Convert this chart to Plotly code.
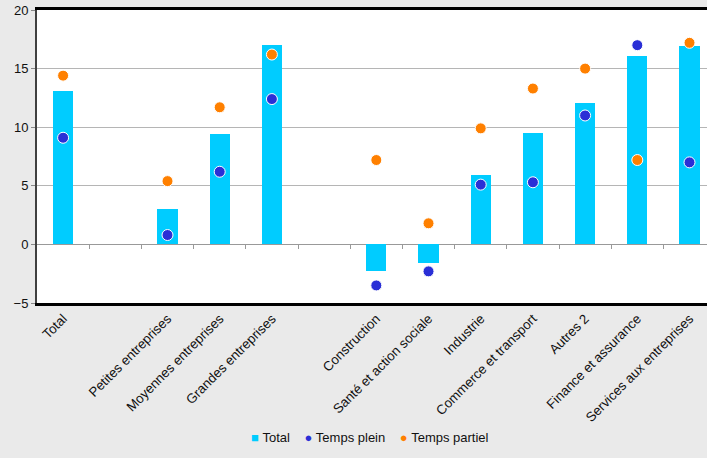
import plotly.graph_objects as go

categories = ["Total", "", "Petites entreprises", "Moyennes entreprises", "Grandes entreprises", "",
              "Construction", "Santé et action sociale", "Industrie", "Commerce et transport",
              "Autres 2", "Finance et assurance", "Services aux entreprises"]
total = [13.1, None, 3.0, 9.4, 17.0, None, -2.3, -1.6, 5.9, 9.5, 12.1, 16.1, 16.9]
temps_plein = [9.1, None, 0.8, 6.2, 12.4, None, -3.5, -2.3, 5.1, 5.3, 11.0, 17.0, 7.0]
temps_partiel = [14.4, None, 5.4, 11.7, 16.2, None, 7.2, 1.8, 9.9, 13.3, 15.0, 7.2, 17.2]
y_ticks = [-5, 0, 5, 10, 15, 20]
series_names = ["Total", "Temps plein", "Temps partiel"]
series_colors = ["#00CCFF", "#2A2FD6", "#FF8000"]

x = list(range(len(categories)))
FONT = "Liberation Sans, Arial, sans-serif"

fig = go.Figure()
fig.add_trace(go.Bar(x=x, y=total, name=series_names[0],
                     marker=dict(color=series_colors[0], line=dict(width=0)), width=0.385))
fig.add_trace(go.Scatter(x=x, y=temps_plein, name=series_names[1], mode="markers",
                         marker=dict(color=series_colors[1], size=11, line=dict(color="white", width=1))))
fig.add_trace(go.Scatter(x=x, y=temps_partiel, name=series_names[2], mode="markers",
                         marker=dict(color=series_colors[2], size=11, line=dict(color="white", width=1))))
# invisible trace to carry the tick marks on the zero line
fig.add_trace(go.Scatter(x=[None], y=[None], xaxis="x2", showlegend=False, hoverinfo="skip"))

legend_text = "&nbsp;&nbsp;&nbsp;&nbsp;".join(
    f"<span style='color:{c}'>{'■' if i == 0 else '●'}</span>&nbsp;{n}"
    for i, (n, c) in enumerate(zip(series_names, series_colors)))

rng = [-0.5, 12.335]
fig.update_layout(
    width=707, height=458,
    margin=dict(l=37, r=0, t=10, b=155),
    paper_bgcolor="#EAEAEA", plot_bgcolor="white",
    font=dict(family=FONT, color="#111111"),
    showlegend=False,
    bargap=0,
    annotations=[dict(text=legend_text, xref="paper", yref="paper", x=0.497, y=-0.46,
                      xanchor="center", yanchor="middle", showarrow=False,
                      font=dict(size=13, family=FONT, color="#111111"))],
    xaxis=dict(range=rng, tickvals=[i for i, c in zip(x, categories) if c],
               ticktext=[c for c in categories if c], tickangle=-45,
               tickfont=dict(size=13.3, family=FONT), ticks="",
               showline=True, linecolor="black", linewidth=2.5, mirror=True,
               showgrid=False, zeroline=False, fixedrange=True),
    xaxis2=dict(range=rng, overlaying="x", anchor="free", position=0.2, side="bottom",
                tickvals=[i + 0.5 for i in range(12)], ticks="outside", ticklen=4,
                tickcolor="#999999", tickwidth=1, showticklabels=False, showline=False,
                showgrid=False, zeroline=False),
    yaxis=dict(range=[-5, 20], tickvals=y_ticks, ticks="outside", ticklen=4,
               tickcolor="#888888", tickfont=dict(size=13, family=FONT),
               showline=True, linecolor="#404040", linewidth=2,
               showgrid=True, gridcolor="#B5B5B5", gridwidth=1,
               zeroline=True, zerolinecolor="#999999", zerolinewidth=1),
)

fig.write_html("out.html", config={"displayModeBar": False},
               post_script="document.body.style.margin='0';document.body.style.padding='0';"
                           "document.documentElement.style.overflow='hidden';")
